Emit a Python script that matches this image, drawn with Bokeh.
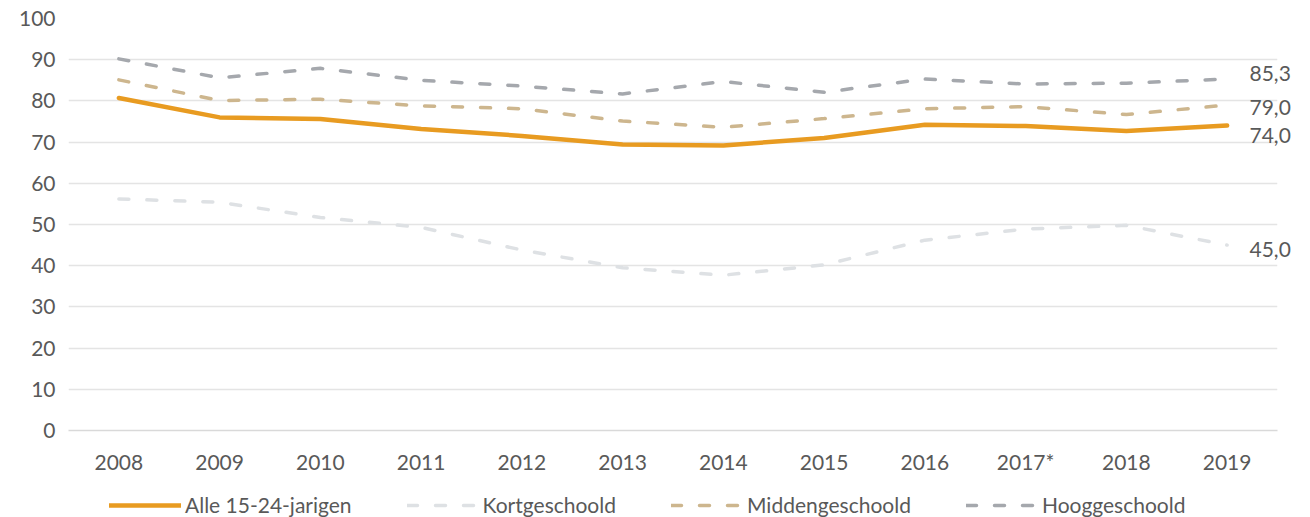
from bokeh.plotting import figure
from bokeh.models import Legend, LegendItem, FixedTicker, ColumnDataSource, LinearAxis
from bokeh.layouts import column
from bokeh.embed import file_html
from bokeh.resources import INLINE

years = ["2008", "2009", "2010", "2011", "2012", "2013", "2014", "2015", "2016", "2017*", "2018", "2019"]
alle = [80.7, 76.0, 75.6, 73.2, 71.5, 69.4, 69.2, 71.0, 74.2, 73.9, 72.7, 74.0]
kort = [56.2, 55.4, 51.7, 49.3, 43.8, 39.5, 37.7, 40.2, 46.2, 48.9, 49.8, 45.0]
midden = [85.1, 80.1, 80.4, 78.8, 78.1, 75.1, 73.6, 75.7, 78.1, 78.6, 76.7, 79.0]
hoog = [90.2, 85.6, 87.9, 85.0, 83.6, 81.7, 84.7, 82.1, 85.3, 84.1, 84.3, 85.3]
series_names = ["Alle 15-24-jarigen", "Kortgeschoold", "Middengeschoold", "Hooggeschoold"]
y_ticks = list(range(0, 101, 10))

FONT = "Lato"
TXT = "#595959"
FS = "21px"

STYLES = {
    "alle": dict(color="#E89B21", line_width=4.5, line_join="round", line_cap="round"),
    "kort": dict(color="#DEE1E4", line_width=3.5, line_dash="10 18", line_cap="round"),
    "midden": dict(color="#CDB68E", line_width=3.5, line_dash="10 18", line_cap="round"),
    "hoog": dict(color="#A5A8AD", line_width=3.5, line_dash="10 18", line_cap="round"),
}

p = figure(x_range=years, y_range=(0, 100), width=1310, height=480,
           output_backend="svg", toolbar_location=None,
           min_border_left=68, min_border_right=33, min_border_top=18, min_border_bottom=50)
p.outline_line_color = None

src = ColumnDataSource(dict(x=years, alle=alle, kort=kort, midden=midden, hoog=hoog))
for key in ["kort", "midden", "hoog", "alle"]:
    p.line("x", key, source=src, **STYLES[key])

# y axis
p.yaxis.ticker = FixedTicker(ticks=y_ticks)
p.yaxis.axis_line_color = None
p.yaxis.major_tick_line_color = None
p.yaxis.minor_tick_line_color = None
p.yaxis.major_label_text_font = FONT
p.yaxis.major_label_text_font_size = FS
p.yaxis.major_label_text_color = TXT
p.yaxis.major_label_standoff = 7

# x axis
p.xaxis.axis_line_color = "#D9D9D9"
p.xaxis.axis_line_width = 1.5
p.xaxis.major_tick_line_color = None
p.xaxis.minor_tick_line_color = None
p.xaxis.major_label_text_font = FONT
p.xaxis.major_label_text_font_size = FS
p.xaxis.major_label_text_color = TXT
p.xaxis.major_label_standoff = 12

p.xgrid.grid_line_color = None
p.ygrid.ticker = FixedTicker(ticks=y_ticks)
p.ygrid.grid_line_color = "#E4E4E4"
p.ygrid.grid_line_width = 1.5

# end-value labels via a right-hand axis (small vertical nudges to avoid overlap)
end_vals = [hoog[-1], midden[-1], alle[-1], kort[-1]]
nudges = [1.4, -0.5, -2.4, -1.0]
pos = [round(v + d, 2) for v, d in zip(end_vals, nudges)]
overrides = {pp: f"{v:.1f}".replace(".", ",") for pp, v in zip(pos, end_vals)}
rax = LinearAxis(ticker=FixedTicker(ticks=pos), major_label_overrides=overrides)
rax.axis_line_color = None
rax.major_tick_line_color = None
rax.minor_tick_line_color = None
rax.major_label_text_font = FONT
rax.major_label_text_font_size = FS
rax.major_label_text_color = TXT
rax.major_label_standoff = -34
p.add_layout(rax, "right")

# legend in its own strip below the chart (frame aligned with the chart's frame)
lg = figure(width=1310, height=37, x_range=(0, 1), y_range=(0, 1),
            x_axis_type=None, y_axis_type=None, output_backend="svg", toolbar_location=None,
            min_border=0)
lg.outline_line_color = None
lg.grid.grid_line_color = None
offscreen = ColumnDataSource(dict(x=[-5, -4], y=[-5, -4]))
items = []
for key, name in zip(["alle", "kort", "midden", "hoog"], series_names):
    r = lg.line("x", "y", source=offscreen, **STYLES[key])
    items.append(LegendItem(label=name, renderers=[r]))
legend = Legend(items=items, orientation="horizontal", location=(41, 0))
legend.label_text_font = FONT
legend.label_text_font_size = FS
legend.label_text_color = TXT
legend.glyph_width = 72
legend.glyph_height = 22
legend.label_standoff = 4
legend.spacing = 55
legend.padding = 0
legend.margin = 0
legend.border_line_color = None
legend.background_fill_alpha = 0
lg.add_layout(legend, "center")

layout = column(p, lg, spacing=0)
open("out.html", "w").write(file_html(layout, INLINE))
